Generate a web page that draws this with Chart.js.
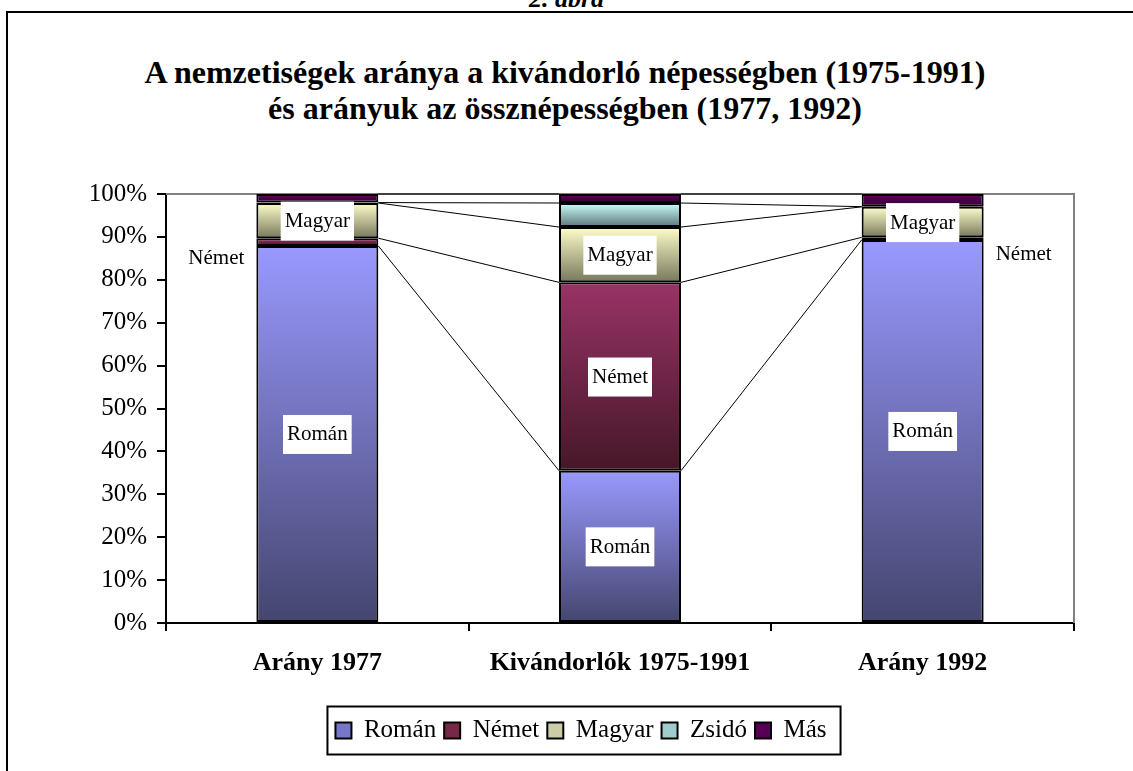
<!DOCTYPE html>
<html lang="hu">
<head>
<meta charset="UTF-8">
<title>2. ábra</title>
<script src="https://cdn.jsdelivr.net/npm/chart.js"></script>
<style>
    html, body { margin: 0; padding: 0; background: #fff; overflow: hidden; width: 1133px; height: 771px; }
    #page { position: relative; width: 1133px; height: 771px; overflow: hidden; font-family: 'Liberation Serif', 'Times New Roman', serif; color: #000; }
    /* keret a diagram körül */
    #frame { position: absolute; left: 6px; top: 11px; width: 1200px; height: 900px; border-left: 2px solid #000; border-top: 2px solid #000; }
    #fig { position: absolute; top: -14px; left: 0; width: 1133px; text-align: center; font: bold italic 26px/26px 'Liberation Serif', serif; }
    #title { position: absolute; top: 54px; left: 0; width: 1130px; text-align: center; font: bold 32px/36px 'Liberation Serif', serif; }
    #wrap { position: absolute; left: 0; top: 0; width: 1162px; height: 771px; }
</style>
</head>
<body>
<div id="page">
    <div id="fig">2. ábra</div>
    <div id="frame"></div>
    <div id="title">A nemzetiségek aránya a kivándorló népességben (1975-1991)<br>és arányuk az össznépességben (1977, 1992)</div>
    <div id="wrap"><canvas id="chart" width="1162" height="771"></canvas></div>
</div>

<script>
    // Adatok (százalék)
    const categories = ['Arány 1977', 'Kivándorlók 1975-1991', 'Arány 1992'];
    const seriesNames = ['Román', 'Német', 'Magyar', 'Zsidó', 'Más'];
    const roman  = [87.9, 35.5, 89.3];
    const nemet  = [1.8, 43.9, 0.6];
    const magyar = [8.2, 12.9, 7.1];
    const zsido  = [0.1, 5.6, 0.05];
    const mas    = [2.0, 2.1, 2.95];
    const yTickLabels = ['0%', '10%', '20%', '30%', '40%', '50%', '60%', '70%', '80%', '90%', '100%'];

    const values = [roman, nemet, magyar, zsido, mas];

    // Színátmenetek: felül világos, alul sötét
    const lightColors = ['#9999FF', '#993366', '#FFFFCC', '#CCFFFF', '#660066'];
    const darkColors  = ['#45456F', '#451728', '#77775C', '#5C7575', '#2E002E'];
    const legendColors = ['#7777C8', '#772848', '#CCCCA8', '#A0CCCC', '#550055'];

    const FONT = "'Liberation Serif', 'Times New Roman', serif";

    function segmentFill(c) {
        const chart = c.chart;
        const y = chart.scales.y;
        const d = c.datasetIndex, i = c.dataIndex;
        if (!y || c.type !== 'data') return legendColors[d];
        let base = 0;
        for (let k = 0; k < d; k++) base += values[k][i];
        const top = base + values[d][i];
        const g = chart.ctx.createLinearGradient(0, y.getPixelForValue(top), 0, y.getPixelForValue(base));
        g.addColorStop(0, lightColors[d]);
        g.addColorStop(1, darkColors[d]);
        return g;
    }

    // Feliratok: melyik szakasz kap címkét
    const segLabels = [
        { ds: 0, i: 0 }, { ds: 0, i: 1 }, { ds: 0, i: 2 },
        { ds: 2, i: 0 }, { ds: 2, i: 1 }, { ds: 2, i: 2 },
        { ds: 1, i: 1 },
        { ds: 1, i: 0, side: 'left' }, { ds: 1, i: 2, side: 'right' }
    ];

    // Plot terület szürke kerete (fent és jobbra)
    const plotBorder = {
        id: 'plotBorder',
        beforeDatasetsDraw(chart) {
            const { ctx, chartArea: a } = chart;
            ctx.save();
            ctx.strokeStyle = '#808080';
            ctx.lineWidth = 2;
            ctx.beginPath();
            ctx.moveTo(a.left, a.top);
            ctx.lineTo(a.right, a.top);
            ctx.lineTo(a.right, a.bottom);
            ctx.stroke();
            ctx.restore();
        }
    };

    // Összekötő vonalak az oszlopok között + címkék
    const seriesLines = {
        id: 'seriesLines',
        afterDatasetsDraw(chart) {
            const ctx = chart.ctx;
            ctx.save();
            ctx.strokeStyle = '#000';
            ctx.lineWidth = 1;
            chart.data.datasets.forEach((ds, d) => {
                const bars = chart.getDatasetMeta(d).data;
                for (let i = 0; i < bars.length - 1; i++) {
                    const a = bars[i], b = bars[i + 1];
                    ctx.beginPath();
                    ctx.moveTo(a.x + a.width / 2, a.y);
                    ctx.lineTo(b.x - b.width / 2, b.y);
                    ctx.stroke();
                }
            });

            ctx.font = '21px ' + FONT;
            ctx.textBaseline = 'middle';
            segLabels.forEach(l => {
                const el = chart.getDatasetMeta(l.ds).data[l.i];
                const text = seriesNames[l.ds];
                const cy = (el.y + el.base) / 2;
                const w = ctx.measureText(text).width;
                if (l.side === 'left') {
                    ctx.textAlign = 'right';
                    ctx.fillStyle = '#000';
                    ctx.fillText(text, el.x - el.width / 2 - 12, cy + 16);
                } else if (l.side === 'right') {
                    ctx.textAlign = 'left';
                    ctx.fillStyle = '#000';
                    ctx.fillText(text, el.x + el.width / 2 + 12, cy + 16);
                } else {
                    ctx.fillStyle = '#fff';
                    ctx.fillRect(el.x - w / 2 - 4, cy - 19, w + 8, 39);
                    ctx.textAlign = 'center';
                    ctx.fillStyle = '#000';
                    ctx.fillText(text, el.x, cy + 1);
                }
            });
            ctx.restore();
        }
    };

    // Jelmagyarázat kerete
    const legendFrame = {
        id: 'legendFrame',
        afterDraw(chart) {
            const boxes = chart.legend.legendHitBoxes;
            if (!boxes || !boxes.length) return;
            const left = Math.min(...boxes.map(b => b.left));
            const right = Math.max(...boxes.map(b => b.left + b.width));
            const cy = boxes[0].top + boxes[0].height / 2;
            const ctx = chart.ctx;
            ctx.save();
            ctx.strokeStyle = '#000';
            ctx.lineWidth = 2;
            ctx.strokeRect(left - 8, cy - 24, right - left + 22, 48);
            ctx.restore();
        }
    };

    const datasets = seriesNames.map((name, d) => ({
        label: name,
        data: values[d],
        backgroundColor: segmentFill,
        borderColor: '#000',
        borderWidth: 2,
        borderSkipped: false,
        barPercentage: 0.403,
        categoryPercentage: 1
    }));

    new Chart(document.getElementById('chart'), {
        type: 'bar',
        data: { labels: categories, datasets: datasets },
        options: {
            responsive: false,
            animation: false,
            devicePixelRatio: 1,
            layout: { padding: { top: 194, right: 88, left: 88, bottom: 18 } },
            plugins: {
                title: { display: false },
                tooltip: { enabled: false },
                legend: {
                    position: 'bottom',
                    labels: {
                        font: { family: FONT, size: 25 },
                        color: '#000',
                        boxWidth: 16,
                        boxHeight: 16,
                        padding: 8,
                        generateLabels: (chart) => chart.data.datasets.map((ds, i) => ({
                            text: ds.label,
                            fillStyle: legendColors[i],
                            strokeStyle: '#000',
                            lineWidth: 2,
                            hidden: false,
                            datasetIndex: i,
                            fontColor: '#000'
                        }))
                    }
                }
            },
            scales: {
                x: {
                    stacked: true,
                    grid: { offset: true, drawOnChartArea: false, color: '#000', lineWidth: 2, tickLength: 8 },
                    border: { color: '#000', width: 2 },
                    ticks: { font: { family: FONT, size: 26, weight: 'bold' }, color: '#000', padding: 17, maxRotation: 0 },
                    afterFit: s => { s.height = 87; }
                },
                y: {
                    stacked: true,
                    min: 0,
                    max: 100,
                    grid: { drawOnChartArea: false, color: '#000', lineWidth: 2, tickLength: 9 },
                    border: { color: '#000', width: 2 },
                    ticks: {
                        stepSize: 10,
                        font: { family: FONT, size: 25 },
                        color: '#000',
                        padding: 10,
                        callback: (v) => yTickLabels[Math.round(v / 10)]
                    },
                    afterFit: s => { s.width = 78; }
                }
            }
        },
        plugins: [plotBorder, seriesLines, legendFrame]
    });
</script>
</body>
</html>
